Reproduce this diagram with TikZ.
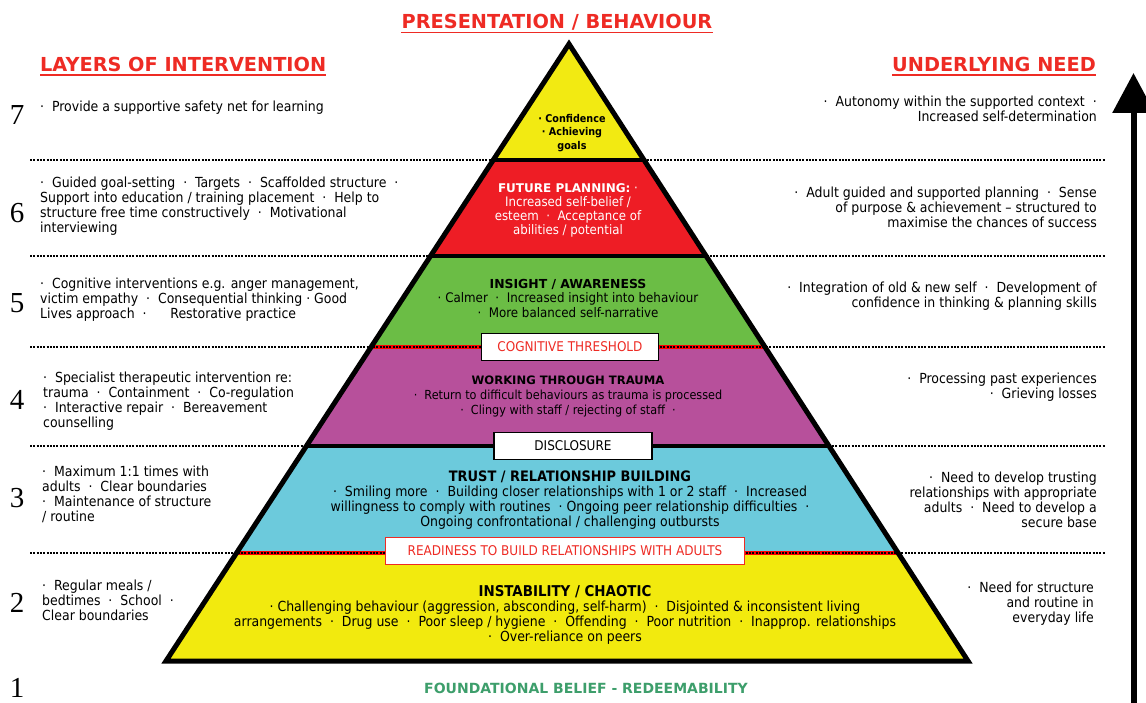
\documentclass[tikz,border=0pt]{standalone}
\usepackage{fontspec}
\setmainfont{DejaVu Sans Condensed}
\newfontfamily\headfont{DejaVu Sans}
\newfontfamily\numfont{Liberation Serif}
\usepackage{tikz}
\usetikzlibrary{arrows.meta, positioning, calc}

\definecolor{titlered}{HTML}{EE2B24}
\definecolor{apexyellow}{HTML}{F2EA12}
\definecolor{planred}{HTML}{EE1D25}
\definecolor{insightgreen}{HTML}{6BBD45}
\definecolor{traumapurple}{HTML}{B7509B}
\definecolor{trustblue}{HTML}{6CCADC}
\definecolor{baseyellow}{HTML}{F2EA0E}
\definecolor{beliefgreen}{HTML}{3D9E6B}

\begin{document}
\begin{tikzpicture}[x=1pt, y=-1pt,
  every node/.style={font=\fontsize{13.9}{15}\selectfont, inner sep=0pt},
  heading/.style={text=titlered, font=\headfont\bfseries\fontsize{19.3}{22}\selectfont},
  levelnum/.style={font=\numfont\fontsize{29}{30}\selectfont},
  lefttext/.style={anchor=west, align=left},
  righttext/.style={anchor=east, align=right},
  layertext/.style={align=center},
  sepline/.style={line width=2pt, dash pattern=on 2pt off 1.3pt},
  threshold/.style={draw, line width=1.6pt, fill=white, minimum height=27pt, text=titlered, font=\fontsize{13.4}{15}\selectfont}]
\useasboundingbox (0,0) rectangle (1146,703);

% Headings
\node[heading] (presentation) at (557,22) {PRESENTATION / BEHAVIOUR};
\node[heading, anchor=west] (layers) at (40,64) {LAYERS OF INTERVENTION};
\node[heading, anchor=east] (underlying) at (1096,64) {UNDERLYING NEED};
\foreach \h in {presentation, layers, underlying}
  \draw[titlered, line width=1.5pt] ([yshift=-4pt]\h.base west) -- ([yshift=-4pt]\h.base east);

% Level separators
\foreach \y in {160,256,347,446,553}
  \draw[sepline] (30,\y) -- (1105,\y);

% Pyramid
\coordinate (apex) at (569,44);
\coordinate (baseleft) at (166,661);
\coordinate (baseright) at (968,661);
\begin{scope}
  \clip (apex) -- (baseleft) -- (baseright) -- cycle;
  \fill[apexyellow] (0,0) rectangle (1146,160);
  \fill[planred] (0,160) rectangle (1146,256);
  \fill[insightgreen] (0,256) rectangle (1146,347);
  \fill[traumapurple] (0,347) rectangle (1146,446);
  \fill[trustblue] (0,446) rectangle (1146,553);
  \fill[baseyellow] (0,553) rectangle (1146,670);
  \foreach \y in {160,256,446}
    \draw[line width=4pt] (0,\y) -- (1146,\y);
  \foreach \y in {347,553} {
    \draw[red, line width=4pt] (0,\y) -- (1146,\y);
    \draw[sepline] (0,\y) -- (1146,\y);
  }
\end{scope}
\draw[line width=5pt, line join=miter] (apex) -- (baseleft) -- (baseright) -- cycle;

% Thresholds
\node[threshold, minimum width=177pt] (cognitive) at (570,347) {COGNITIVE THRESHOLD};
\node[threshold, minimum width=158pt, text=black] (disclosure) at (573,446) {DISCLOSURE};
\node[threshold, draw=titlered, minimum width=359pt] (readiness) at (565,551) {READINESS TO BUILD RELATIONSHIPS WITH ADULTS};

% Pyramid layers
\node[layertext, font=\bfseries\fontsize{10.7}{13.5}\selectfont] (layer7) at (572,133) {·~Confidence\\·~Achieving\\goals};
\node[layertext, text=white, font=\fontsize{13.1}{14}\selectfont] (layer6) at (568,210) {{\headfont\bfseries\fontsize{12}{14}\selectfont FUTURE PLANNING:}~·\\Increased self-belief /\\esteem~~·~~Acceptance of\\abilities / potential};
\node[layertext, font=\fontsize{13.2}{14.5}\selectfont] (layer5) at (568,298) {{\headfont\bfseries\fontsize{12.4}{14}\selectfont INSIGHT / AWARENESS}\\·~Calmer~~·~~Increased insight into behaviour\\·~~More balanced self-narrative};
\node[layertext, font=\fontsize{12.5}{15}\selectfont] (layer4) at (568,396) {{\headfont\bfseries\fontsize{11.6}{14}\selectfont WORKING THROUGH TRAUMA}\\·~~Return to difficult behaviours as trauma is processed\\·~~Clingy with staff / rejecting of staff~~·};
\node[layertext] (layer3) at (570,500.5) {{\bfseries\fontsize{14.4}{15}\selectfont TRUST / RELATIONSHIP BUILDING}\\·~~Smiling more~~·~~Building closer relationships with 1 or 2 staff~~·~~Increased\\willingness to comply with routines~~·~Ongoing peer relationship difficulties~~·\\Ongoing confrontational / challenging outbursts};
\node[layertext] (layer2) at (565,615) {{\bfseries\fontsize{14.9}{15}\selectfont INSTABILITY / CHAOTIC}\\·~Challenging behaviour (aggression, absconding, self-harm)~~·~~Disjointed \& inconsistent living\\arrangements~~·~~Drug use~~·~~Poor sleep / hygiene~~·~~Offending~~·~~Poor nutrition~~·~~Inapprop. relationships\\·~~Over-reliance on peers};

% Layer numbers
\node[levelnum] (num7) at (17,115) {7};
\node[levelnum] (num6) at (17,213) {6};
\node[levelnum] (num5) at (17,303) {5};
\node[levelnum] (num4) at (17,400) {4};
\node[levelnum] (num3) at (17,498) {3};
\node[levelnum] (num2) at (17,603) {2};
\node[levelnum] (num1) at (17,688) {1};

% Interventions
\node[lefttext] (left7) at (40,108) {·~~Provide a supportive safety net for learning};
\node[lefttext] (left6) at (40,206) {·~~Guided goal-setting~~·~~Targets~~·~~Scaffolded structure~~·\\Support into education / training placement~~·~~Help to\\structure free time constructively~~·~~Motivational\\interviewing};
\node[lefttext] (left5) at (40,299.5) {·~~Cognitive interventions e.g. anger management,\\victim empathy~~·~~Consequential thinking · Good\\Lives approach~~·~~~~~~Restorative practice};
\node[lefttext] (left4) at (43,401) {·~~Specialist therapeutic intervention re:\\trauma~~·~~Containment~~·~~Co-regulation\\·~~Interactive repair~~·~~Bereavement\\counselling};
\node[lefttext] (left3) at (42,494.5) {·~~Maximum 1:1 times with\\adults~~·~~Clear boundaries\\·~~Maintenance of structure\\/ routine};
\node[lefttext] (left2) at (42,600) {·~~Regular meals /\\bedtimes~~·~~School~~·\\Clear boundaries};

% Underlying needs
\node[righttext] (need7) at (1097,109) {·~~Autonomy within the supported context~~·\\Increased self-determination};
\node[righttext] (need6) at (1097,207.5) {·~~Adult guided and supported planning~~·~~Sense\\of purpose \& achievement -- structured to\\maximise the chances of success};
\node[righttext] (need5) at (1097,296) {·~~Integration of old \& new self~~·~~Development of\\confidence in thinking \& planning skills};
\node[righttext] (need4) at (1097,387) {·~~Processing past experiences\\·~~Grieving losses};
\node[righttext] (need3) at (1097,499.5) {·~~Need to develop trusting\\relationships with appropriate\\adults~~·~~Need to develop a\\secure base};
\node[righttext] (need2) at (1094,603.5) {·~~Need for structure\\and routine in\\everyday life};

% Foundation
\node[text=beliefgreen, font=\headfont\bfseries\fontsize{14}{16}\selectfont] (foundation) at (586,688) {FOUNDATIONAL BELIEF - REDEEMABILITY};

% Need arrow
\coordinate (needbase) at (1133.5,710);
\coordinate (needtop) at (1133.5,73);
\draw[line width=6pt, -{Triangle[width=41pt, length=40pt]}] (needbase) -- (needtop);
\end{tikzpicture}
\end{document}
